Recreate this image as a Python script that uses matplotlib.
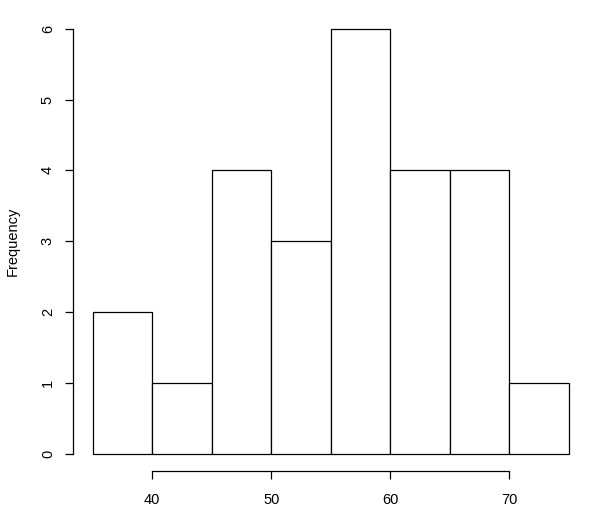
import numpy as np
import matplotlib.pyplot as plt

plt.rcParams['font.family'] = ['Liberation Sans', 'DejaVu Sans']

# histogram bins and counts
bin_edges = [35, 40, 45, 50, 55, 60, 65, 70, 75]
counts = [2, 1, 4, 3, 6, 4, 4, 1]
x_ticks = [40, 50, 60, 70]
y_ticks = [0, 1, 2, 3, 4, 5, 6]

W, H = 600, 523
fig = plt.figure(figsize=(W / 100, H / 100), dpi=100)
# axes box in pixels: x 35->75 at 92.8..568.8, y 0->6 at 453.7..28.7
ax = fig.add_axes([92.8 / W, (H - 453.7) / H, 476 / W, 425 / H])

edges = np.array(bin_edges)
bars = ax.bar(edges[:-1], counts, width=np.diff(edges), align='edge',
              facecolor='white', edgecolor='black', linewidth=0.9)
for b in bars:
    b.set_clip_on(False)

ax.set_xlim(35, 75)
ax.set_ylim(0, 6)

for s in ['top', 'right']:
    ax.spines[s].set_visible(False)
ax.spines['left'].set_position(('outward', 14))
ax.spines['bottom'].set_position(('outward', 12.7))
ax.spines['left'].set_bounds(0, 6)
ax.spines['bottom'].set_bounds(40, 70)
for s in ['left', 'bottom']:
    ax.spines[s].set_linewidth(0.9)

ax.set_xticks(x_ticks)
ax.set_yticks(y_ticks)
ax.tick_params(axis='both', length=5.8, width=0.9, labelsize=10.5)
ax.tick_params(axis='x', pad=10)
ax.tick_params(axis='y', pad=7.5)
for lab in ax.get_yticklabels():
    lab.set_rotation(90)
    lab.set_va('center')

ax.set_ylabel('Frequency', fontsize=10.5)
ax.yaxis.set_label_coords(-73 / 476, 0.5)

fig.savefig('out.png', dpi=100)
